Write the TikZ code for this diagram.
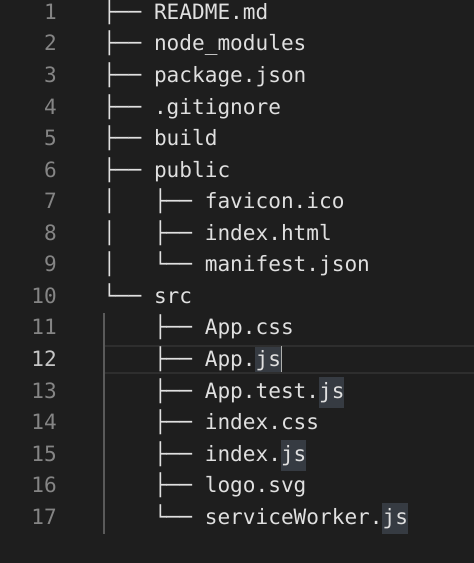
\documentclass[tikz,border=0pt]{standalone}
\usepackage{fontspec}
\newfontfamily\codefont{DejaVu Sans Mono}
\definecolor{bgc}{HTML}{1E1E1E}
\definecolor{fgc}{HTML}{E0E0E0}
\definecolor{numc}{HTML}{858585}
\definecolor{numcur}{HTML}{C6C6C6}
\definecolor{hlc}{HTML}{363B42}
\definecolor{curline}{HTML}{2E2E2E}
\definecolor{guidec}{HTML}{5A5A5A}
\definecolor{cursorc}{HTML}{AEAFAD}
\tikzset{
  code/.style={font=\codefont\fontsize{21.1pt}{25pt}\selectfont, text=fgc, inner sep=0pt, anchor=base west},
  lnum/.style={font=\codefont\fontsize{21.1pt}{25pt}\selectfont, text=numc, inner sep=0pt, anchor=base east},
  jsbox/.style={fill=hlc, draw=none}
}
\begin{document}
\begin{tikzpicture}[x=1pt,y=-1pt]
\fill[bgc] (0,0) rectangle (474,563);
\useasboundingbox (0,0) rectangle (474,563);
% current line highlight (line 12)
\draw[curline, line width=2pt] (105,345.5) -- (474,345.5);
\draw[curline, line width=2pt] (105,372.5) -- (474,372.5);
% indent guide
\draw[guidec, line width=1.2pt] (104,313) -- (104,534);
% .js occurrence highlights
\fill[jsbox] (255.4,346.5) rectangle (280.8,371.5);
\fill[jsbox] (318.9,376.6) rectangle (344.3,408.1);
\fill[jsbox] (280.8,439.7) rectangle (306.2,471.2);
\fill[jsbox] (382.4,502.8) rectangle (407.8,534.3);
% cursor
\draw[cursorc, line width=1.6pt] (281.6,346) -- (281.6,372);
% line numbers
\node[lnum] (n1) at (57,19.36) {1};
\node[lnum] (n2) at (57,50.92) {2};
\node[lnum] (n3) at (57,82.48) {3};
\node[lnum] (n4) at (57,114.04) {4};
\node[lnum] (n5) at (57,145.6) {5};
\node[lnum] (n6) at (57,177.16) {6};
\node[lnum] (n7) at (57,208.72) {7};
\node[lnum] (n8) at (57,240.28) {8};
\node[lnum] (n9) at (57,271.84) {9};
\node[lnum] (n10) at (57,303.4) {10};
\node[lnum] (n11) at (57,334.96) {11};
\node[lnum, text=numcur] (n12) at (57,366.52) {12};
\node[lnum] (n13) at (57,398.08) {13};
\node[lnum] (n14) at (57,429.64) {14};
\node[lnum] (n15) at (57,461.2) {15};
\node[lnum] (n16) at (57,492.76) {16};
\node[lnum] (n17) at (57,524.32) {17};
% level 1 prefixes
\node[code] (p1) at (103,19.36) {├──};
\node[code] (p2) at (103,50.92) {├──};
\node[code] (p3) at (103,82.48) {├──};
\node[code] (p4) at (103,114.04) {├──};
\node[code] (p5) at (103,145.6) {├──};
\node[code] (p6) at (103,177.16) {├──};
\node[code] (v7) at (103,208.72) {│};
\node[code] (v8) at (103,240.28) {│};
\node[code] (v9) at (103,271.84) {│};
\node[code] (p10) at (103,303.4) {└──};
% level 2 prefixes
\node[code] (p7) at (153.8,208.72) {├──};
\node[code] (p8) at (153.8,240.28) {├──};
\node[code] (p9) at (153.8,271.84) {└──};
\node[code] (p11) at (153.8,334.96) {├──};
\node[code] (p12) at (153.8,366.52) {├──};
\node[code] (p13) at (153.8,398.08) {├──};
\node[code] (p14) at (153.8,429.64) {├──};
\node[code] (p15) at (153.8,461.2) {├──};
\node[code] (p16) at (153.8,492.76) {├──};
\node[code] (p17) at (153.8,524.32) {└──};
% names
\node[code] (t1) at (153.8,19.36) {README.md};
\node[code] (t2) at (153.8,50.92) {node\_modules};
\node[code] (t3) at (153.8,82.48) {package.json};
\node[code] (t4) at (153.8,114.04) {.gitignore};
\node[code] (t5) at (153.8,145.6) {build};
\node[code] (t6) at (153.8,177.16) {public};
\node[code] (t7) at (204.6,208.72) {favicon.ico};
\node[code] (t8) at (204.6,240.28) {index.html};
\node[code] (t9) at (204.6,271.84) {manifest.json};
\node[code] (t10) at (153.8,303.4) {src};
\node[code] (t11) at (204.6,334.96) {App.css};
\node[code] (t12) at (204.6,366.52) {App.js};
\node[code] (t13) at (204.6,398.08) {App.test.js};
\node[code] (t14) at (204.6,429.64) {index.css};
\node[code] (t15) at (204.6,461.2) {index.js};
\node[code] (t16) at (204.6,492.76) {logo.svg};
\node[code] (t17) at (204.6,524.32) {serviceWorker.js};
\end{tikzpicture}
\end{document}
